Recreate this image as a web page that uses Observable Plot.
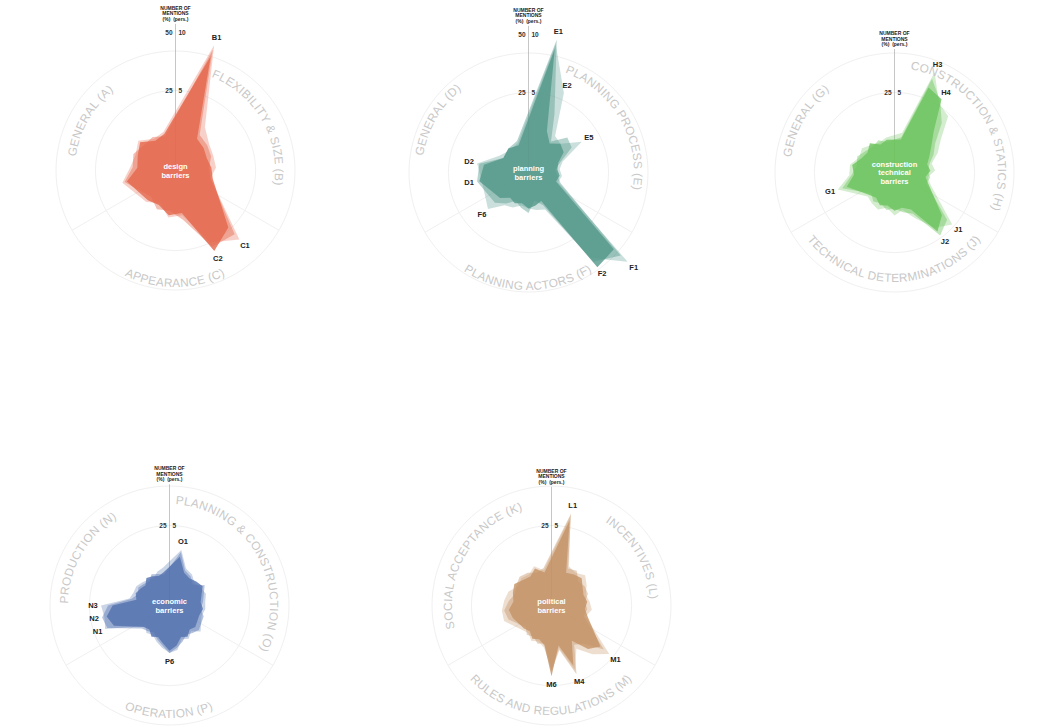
<!DOCTYPE html>
<html><head><meta charset="utf-8">
<script src="https://cdn.jsdelivr.net/npm/d3@7"></script>
<script src="https://cdn.jsdelivr.net/npm/@observablehq/plot@0.6"></script>
<style>
body{margin:0;background:#fff;}
#page{position:relative;width:1061px;height:727px;overflow:hidden;font-family:"Liberation Sans",Arial,sans-serif;}
.chart{position:absolute;width:340px;height:340px;}
</style></head><body><div id="page"></div>
<script>
// ---------- DATA ----------
// 1. design barriers
const designCodes = ["B1","B2","B3","B4","B5","B6","C1","C2","C3","C4","C5","C6","A1","A2","A3","A4","A5","A6"];
const designA = [42,7,6,5,6,7, 24,29,9,10,7,8, 12,7,8,10,6,7];
const designB = [45,9,8,7,5,6, 28,27,12,8,9,6, 13,9,10,8,8,6];
const designC = [47,13,9,8,8,6, 31,25,10,11,6,9, 14,10,9,11,7,8];
const designSectors = ["FLEXIBILITY & SIZE (B)","APPEARANCE (C)","GENERAL (A)"];
const designLetters = ["B","C","A"];
const designLabelled = ["B1","C1","C2"];
const designTicks = [25,50];
const designCounts = [5,10];

// 2. planning barriers
const planningCodes = ["E1","E2","E3","E4","E5","E6","E7","E8","E9","F1","F2","F3","F4","F5","F7","F8","F9","F6","D1","D2","D3","D4","D5"];
const planningA = [45,10,6,9,8,4,3,4,3, 40,41,4,5,6,4,5,4,7, 12,10,3,4,3];
const planningB = [49,18,7,13,12,5,2,3,5, 44,38,6,3,8,6,4,7,10, 13,12,3,4,5];
const planningC = [47,28,10,9,17,6,4,5,4, 48,36,8,7,6,5,7,8,14, 11,13,5,3,4];
const planningSectors = ["PLANNING PROCESS (E)","PLANNING ACTORS (F)","GENERAL (D)"];
const planningLetters = ["E","F","D"];
const planningLabelled = ["E1","E2","E5","F1","F2","F6","D1","D2"];
const planningTicks = [25,50];
const planningCounts = [5,10];

// 3. construction technical barriers
const constrCodes = ["H1","H3","H4","H2","H5","H6","H7","H8","H9","H10","J1","J2","J3","J4","J5","J6","J7","J8","J9","G1","G2","G3","G4","G5","G6","G7","G8"];
const constrA = [5,30,28,15,10,7,5,6,4,6, 18,22,8,6,7,5,6,4,5, 12,8,9,6,5,7,4,5];
const constrB = [6,34,27,20,12,9,6,5,6,5, 21,24,10,8,6,7,5,6,4, 14,9,7,8,6,5,6,4];
const constrC = [8,37,26,24,15,11,7,8,5,7, 24,20,12,7,9,6,8,7,6, 16,10,10,7,8,6,5,6];
const constrSectors = ["CONSTRUCTION & STATICS (H)","TECHNICAL DETERMINATIONS (J)","GENERAL (G)"];
const constrLetters = ["H","J","G"];
const constrLabelled = ["H3","H4","J1","J2","G1"];
const constrTicks = [25];
const constrCounts = [5];

// 4. economic barriers
const econCodes = ["O1","O2","O3","O4","O5","O6","O7","O8","O9","P1","P2","P3","P4","P5","P6","P7","P8","P9","P10","P11","N1","N2","N3","N4","N5","N6","N7","N8","N9","N10","N11"];
const econA = [12,6,5,6,7,5,4,5,4, 5,4,6,5,8,10,7,5,6,4,5, 16,18,15,5,6,5,4,6,5,4,5];
const econB = [14,7,6,4,8,6,5,4,6, 7,6,5,7,9,11,8,6,4,5,6, 19,20,17,7,5,6,5,4,6,5,4];
const econC = [15,8,7,5,6,7,6,6,5, 8,5,7,6,10,11,9,7,5,6,4, 20,19,20,8,7,7,6,5,4,6,7];
const econSectors = ["PLANNING & CONSTRUCTION (O)","OPERATION (P)","PRODUCTION (N)"];
const econLetters = ["O","P","N"];
const econLabelled = ["O1","P6","N1","N2","N3"];
const econTicks = [25];
const econCounts = [5];

// 5. political barriers
const politCodes = ["L1","L2","L3","L4","L5","L6","L7","L8","L9","M1","M2","M3","M4","M5","M6","M7","M8","M9","M10","M11","K1","K2","K3","K4","K5","K6","K7","K8","K9"];
const politA = [28,6,7,8,6,5,6,5,7, 18,15,8,18,8,21,8,6,7,5,6, 8,9,7,8,9,7,6,8,5];
const politB = [31,8,9,6,7,7,5,6,5, 20,12,10,22,10,19,7,8,6,7,5, 10,11,9,7,8,9,8,6,7];
const politC = [30,9,8,10,8,6,7,8,6, 23,18,12,20,9,18,9,7,8,6,7, 12,12,11,10,7,8,7,9,6];
const politSectors = ["INCENTIVES (L)","RULES AND REGULATIONS (M)","SOCIAL ACCEPTANCE (K)"];
const politLetters = ["L","M","K"];
const politLabelled = ["L1","M1","M4","M6"];
const politTicks = [25];
const politCounts = [5];

const titles = ["design\nbarriers","planning\nbarriers","construction\ntechnical\nbarriers","economic\nbarriers","political\nbarriers"];
const headerText = "NUMBER OF\nMENTIONS\n(%)  (pers.)";
const gridRings = [25, 42];

// ---------- CONFIG ----------
const charts = [
  {id:"design", codes:designCodes, a:designA, b:designB, c:designC, sectors:designSectors, letters:designLetters, labelled:designLabelled, ticks:designTicks, counts:designCounts, title:titles[0], color:"#e4674b", cx:175, cy:170, ring:100, ringBottom:117, header:55},
  {id:"planning", codes:planningCodes, a:planningA, b:planningB, c:planningC, sectors:planningSectors, letters:planningLetters, labelled:planningLabelled, ticks:planningTicks, counts:planningCounts, title:titles[1], color:"#52978a", cx:528, cy:172, ring:106, ringBottom:118, header:55},
  {id:"constr", codes:constrCodes, a:constrA, b:constrB, c:constrC, sectors:constrSectors, letters:constrLetters, labelled:constrLabelled, ticks:constrTicks, counts:constrCounts, title:titles[2], color:"#6cc35c", cx:894, cy:172, ring:104, ringBottom:110, header:45},
  {id:"econ", codes:econCodes, a:econA, b:econB, c:econC, sectors:econSectors, letters:econLetters, labelled:econLabelled, ticks:econTicks, counts:econCounts, title:titles[3], color:"#5170ae", cx:169, cy:605, ring:101, ringBottom:113, header:44},
  {id:"polit", codes:politCodes, a:politA, b:politB, c:politC, sectors:politSectors, letters:politLetters, labelled:politLabelled, ticks:politTicks, counts:politCounts, title:titles[4], color:"#c49265", cx:551, cy:605, ring:99, ringBottom:110, header:43}
];

const K = 2.32;      // px per percent
const HOLE = 9.5;    // inner offset in percent units
const HALF = 170;
const E = HALF / K;
const rad = d => d * Math.PI / 180;
const X = (ang, v) => (HOLE + v) * Math.sin(rad(ang));
const Y = (ang, v) => (HOLE + v) * Math.cos(rad(ang));

function itemsFor(cfg) {
  const counts = cfg.letters.map(l => cfg.codes.filter(c => c[0] === l).length);
  const seen = cfg.letters.map(() => 0);
  return cfg.codes.map((code, i) => {
    const s = cfg.letters.indexOf(code[0]);
    const j = seen[s]++;
    const ang = s * 120 + (j + 1) * 120 / (counts[s] + 1);
    return {code, ang, a: cfg.a[i], b: cfg.b[i], c: cfg.c[i]};
  });
}

const page = document.getElementById("page");
const layers = [{key:"c", op:0.3}, {key:"b", op:0.42}, {key:"a", op:0.8}];

charts.forEach(cfg => {
  const items = itemsFor(cfg);
  const ringPts = gridRings.flatMap(r => d3.range(0, 360, 3).map(ang => ({r, ang})));
  const dividers = [120, 240];
  const lab = items.filter(d => cfg.labelled.includes(d.code));

  const plot = Plot.plot({
    width: 340, height: 340, margin: 0,
    x: {domain: [-E, E], axis: null},
    y: {domain: [-E, E], axis: null},
    style: {background: "transparent", overflow: "visible", fontFamily: "'Liberation Sans', Arial, sans-serif"},
    marks: [
      Plot.line(ringPts, {x: d => X(d.ang, d.r), y: d => Y(d.ang, d.r), z: "r", curve: "linear-closed", stroke: "#f0f0f0", strokeWidth: 1}),
      Plot.link(dividers, {x1: d => X(d, 0), y1: d => Y(d, 0), x2: d => X(d, 42), y2: d => Y(d, 42), stroke: "#f0f0f0", strokeWidth: 1}),
      Plot.ruleX([0], {y1: () => 0, y2: () => HOLE + cfg.header - 1.5, stroke: "#a0a0a0", strokeWidth: 0.6}),
      ...layers.map(L => Plot.line(items, {x: d => X(d.ang, d[L.key]), y: d => Y(d.ang, d[L.key]), curve: "linear-closed", fill: cfg.color, fillOpacity: L.op, stroke: "none"})),
      Plot.text(cfg.ticks, {x: () => 0, y: d => HOLE + d, text: d => String(d), dx: -3, textAnchor: "end", fontSize: 6.5, fontWeight: "bold", fill: "#333"}),
      Plot.text(cfg.ticks.map((t, i) => ({t, n: cfg.counts[i]})), {x: () => 0, y: d => HOLE + d.t, text: d => String(d.n), dx: 3, textAnchor: "start", fontSize: 6.5, fontWeight: "bold", fill: "#333"}),
      Plot.text([headerText], {x: () => 0, y: () => HOLE + cfg.header, text: d => d, lineAnchor: "bottom", fontSize: 5, fontWeight: "bold", fill: "#222", lineHeight: 1.1}),
      Plot.text(lab, {x: d => X(d.ang, Math.max(d.a, d.b, d.c) + 3.5), y: d => Y(d.ang, Math.max(d.a, d.b, d.c) + 3.5), text: "code", fontSize: 7.5, fontWeight: "bold", fill: "#222"}),
      Plot.text([cfg.title], {x: () => 0, y: () => 0, text: d => d, fill: "white", fontSize: 7.5, fontWeight: "bold", lineHeight: 1.15})
    ]
  });

  // curved sector labels placed with the plot's own scales
  const sx = plot.scale("x"), sy = plot.scale("y");
  const px = d3.scaleLinear().domain(sx.domain).range(sx.range);
  const py = d3.scaleLinear().domain(sy.domain).range(sy.range);
  const cx = px(0), cy = py(0);
  const svg = d3.select(plot);
  const defs = svg.append("defs");
  const g = svg.append("g");
  cfg.sectors.forEach((name, k) => {
    const mid = k * 120 + 60;
    const bottom = mid > 90 && mid < 270;
    const R = bottom ? cfg.ringBottom : cfg.ring;
    const pt = a => [cx + R * Math.sin(rad(a)), cy - R * Math.cos(rad(a))];
    let d;
    if (!bottom) { const p0 = pt(mid - 85), p1 = pt(mid + 85); d = `M${p0[0]},${p0[1]}A${R},${R} 0 0 1 ${p1[0]},${p1[1]}`; }
    else { const p0 = pt(mid + 85), p1 = pt(mid - 85); d = `M${p0[0]},${p0[1]}A${R},${R} 0 0 0 ${p1[0]},${p1[1]}`; }
    const id = `${cfg.id}-sec-${k}`;
    defs.append("path").attr("id", id).attr("d", d).attr("fill", "none");
    g.append("text")
      .attr("font-size", 11.8)
      .attr("fill", "#c8c8c8")
      .attr("letter-spacing", 0.3)
      .attr("font-family", "'Liberation Sans', Arial, sans-serif")
      .append("textPath")
      .attr("href", "#" + id)
      .attr("startOffset", "50%")
      .attr("text-anchor", "middle")
      .text(name);
  });

  const div = document.createElement("div");
  div.className = "chart";
  div.style.left = (cfg.cx - HALF) + "px";
  div.style.top = (cfg.cy - HALF) + "px";
  div.appendChild(plot);
  page.appendChild(div);
});
</script>
</body></html>
